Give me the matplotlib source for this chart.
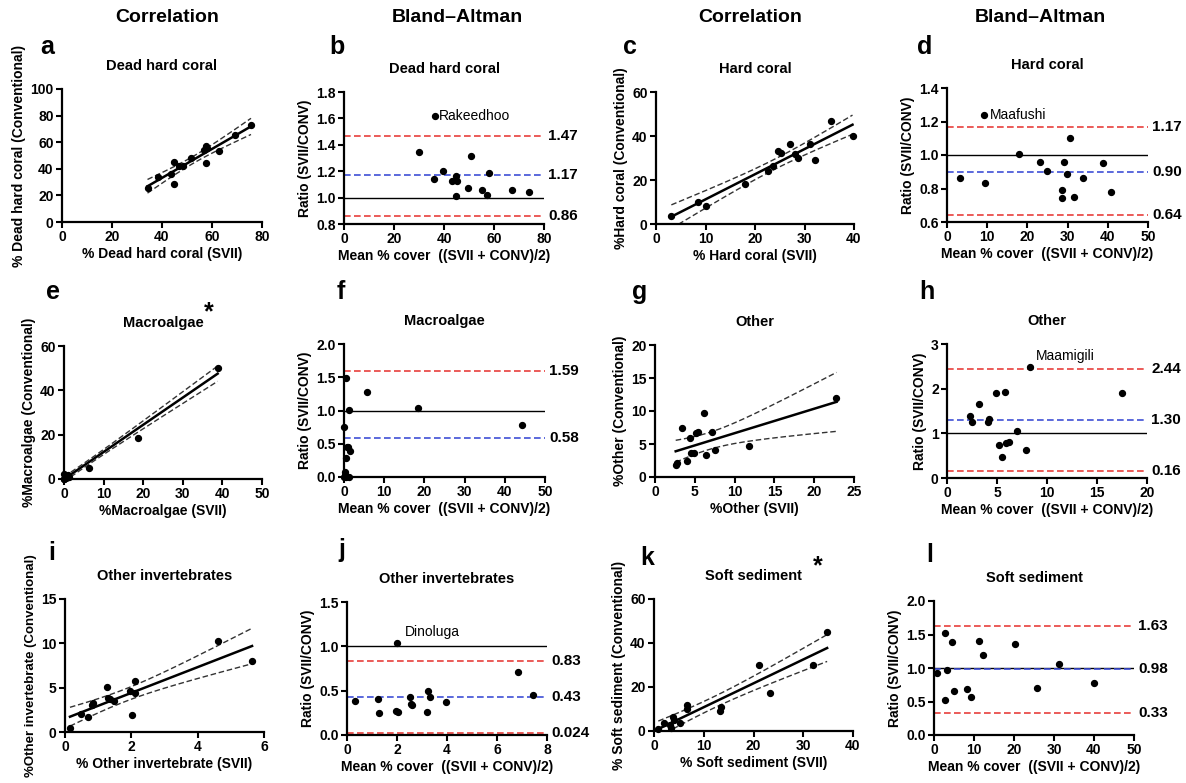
import numpy as np
import matplotlib
matplotlib.use('Agg')
import matplotlib.pyplot as plt

plt.rcParams['font.family'] = ['Liberation Sans', 'DejaVu Sans']
plt.rcParams['font.weight'] = 'bold'
plt.rcParams['axes.labelweight'] = 'bold'
plt.rcParams['axes.titleweight'] = 'bold'

# ---- data (15 sites) ----
# Dead hard coral
dhc_svii = [34.2, 38.4, 43.5, 44.8, 44.8, 46.6, 48.3, 51.6, 56.9, 57.7, 57.9, 57.5, 62.6, 69.2, 75.6]
dhc_conv = [25.8, 34.1, 35.8, 45.1, 28.3, 41.9, 41.9, 48.4, 53.9, 56.9, 56.0, 44.4, 53.1, 65.4, 72.7]
dhc_mean = [36.3, 29.9, 36.0, 39.6, 43.3, 44.9, 45.1, 44.7, 49.7, 50.7, 55.1, 57.3, 57.9, 67.2, 74.0]
dhc_ratio = [1.617, 1.345, 1.139, 1.202, 1.129, 1.167, 1.129, 1.009, 1.074, 1.313, 1.061, 1.016, 1.184, 1.056, 1.041]
dhc_limits = [1.47, 1.17, 0.86]

# Hard coral
hc_svii = [3.1, 8.5, 10.1, 17.9, 22.7, 23.7, 24.6, 25.3, 27.1, 28.1, 28.6, 31.2, 32.1, 35.4, 39.7]
hc_conv = [3.6, 10.2, 8.0, 18.0, 23.9, 26.2, 33.2, 32.3, 36.4, 31.7, 30.0, 36.4, 29.2, 46.7, 40.0]
hc_mean = [9.3, 3.3, 9.4, 17.9, 23.2, 24.8, 29.1, 29.8, 30.5, 28.6, 28.7, 31.6, 33.8, 38.7, 40.8]
hc_ratio = [1.24, 0.86, 0.834, 1.004, 0.956, 0.906, 0.96, 0.886, 1.10, 0.79, 0.744, 0.752, 0.862, 0.952, 0.78]
hc_limits = [1.17, 0.90, 0.64]

# Macroalgae
ma_svii = [38.8, 18.7, 6.2, 0.0, 0.3, 0.5, 0.8, 1.0, 1.3, 0.1, 0.2, 0.6, 0.4, 0.9, 0.0]
ma_conv = [50.1, 18.3, 5.1, 2.2, 0.8, 1.5, 1.2, 1.6, 1.0, 0.2, 0.5, 0.3, 0.9, 0.7, 0.0]
ma_mean = [5.6, 18.5, 44.4, 0.4, 1.2, 0.1, 0.7, 1.4, 0.4, 0.3, 0.4, 1.2, 1.0, 0.25, 0.0]
ma_ratio = [1.283, 1.033, 0.777, 1.484, 1.008, 0.747, 0.456, 0.391, 0.291, 0.075, 0.0, 0.0, 0.446, 0.035, 0.0]
ma_limits = [1.59, 0.58]

# Other
ot_svii = [22.8, 3.4, 6.1, 4.4, 5.2, 5.4, 7.1, 11.8, 2.8, 2.6, 4.0, 4.5, 4.9, 6.4, 7.6]
ot_conv = [11.97, 7.37, 9.75, 5.91, 6.6, 6.77, 6.77, 4.7, 2.12, 1.82, 2.37, 3.59, 3.59, 3.33, 4.04]
ot_mean = [8.3, 2.27, 2.53, 3.17, 4.07, 4.23, 4.93, 5.83, 5.17, 5.47, 5.93, 6.23, 6.97, 7.93, 17.5]
ot_ratio = [2.49, 1.395, 1.25, 1.665, 1.25, 1.33, 1.905, 1.92, 0.735, 0.465, 0.773, 0.795, 1.058, 0.623, 1.913]
ot_limits = [2.44, 1.30, 0.16]

# Other invertebrates
oi_svii = [0.15, 0.49, 0.69, 0.82, 0.83, 1.26, 1.30, 1.35, 1.49, 1.95, 2.01, 2.11, 2.10, 4.62, 5.64]
oi_conv = [0.45, 1.99, 1.73, 3.05, 3.27, 5.08, 3.87, 3.72, 3.50, 4.62, 1.95, 5.71, 4.40, 10.23, 7.97]
oi_mean = [2.0, 0.32, 1.23, 1.27, 1.97, 2.05, 2.51, 2.57, 2.59, 3.21, 3.24, 3.32, 3.95, 6.84, 7.45]
oi_ratio = [1.037, 0.38, 0.402, 0.252, 0.274, 0.259, 0.432, 0.35, 0.335, 0.256, 0.492, 0.425, 0.372, 0.707, 0.455]
oi_limits = [0.83, 0.43, 0.024]

# Soft sediment
ss_svii = [0.87, 1.94, 3.15, 3.35, 3.8, 3.95, 5.2, 6.7, 6.7, 13.2, 13.4, 21.2, 23.3, 32.0, 34.8]
ss_conv = [0.76, 3.8, 2.7, 1.5, 6.2, 5.0, 3.6, 11.7, 10.0, 9.2, 10.8, 30.2, 17.1, 30.2, 45.0]
ss_mean = [0.83, 2.67, 2.75, 3.17, 4.42, 4.92, 8.17, 9.33, 11.3, 12.3, 20.2, 25.75, 31.3, 40.0]
ss_ratio = [0.93, 1.522, 0.522, 0.975, 1.393, 0.657, 0.692, 0.572, 1.398, 1.199, 1.358, 0.706, 1.06, 0.776]
ss_limits = [1.63, 0.98, 0.33]

W, H = 1186, 783
fig = plt.figure(figsize=(W / 100, H / 100), dpi=100)

RED = '#e8403c'
BLUE = '#3e4fd6'
T_CRIT = 2.160  # t(0.975, df=13)


def add_ax(x0, x1, ytop, ybot):
    ax = fig.add_axes([x0 / W, 1 - ybot / H, (x1 - x0) / W, (ybot - ytop) / H])
    for s in ['top', 'right']:
        ax.spines[s].set_visible(False)
    for s in ['left', 'bottom']:
        ax.spines[s].set_linewidth(1.6)
    ax.tick_params(direction='out', length=4, width=1.5, labelsize=10, pad=2)
    return ax


def style(ax, title, xlabel, ylabel, xlim, ylim, xt, yt, yfmt=None, ylab_size=10):
    ax.set_xlim(*xlim)
    ax.set_ylim(*ylim)
    ax.set_xticks(xt)
    ax.set_yticks(yt)
    if yfmt:
        ax.set_yticklabels([yfmt % v for v in yt])
    ax.set_title(title, fontsize=10.5, pad=14)
    ax.set_xlabel(xlabel, fontsize=10, labelpad=2)
    ax.set_ylabel(ylabel, fontsize=ylab_size, labelpad=3)


def corr_panel(ax, x, y):
    x = np.asarray(x)
    y = np.asarray(y)
    n = len(x)
    b, a = np.polyfit(x, y, 1)
    xs = np.linspace(x.min(), x.max(), 200)
    yhat = a + b * xs
    s = np.sqrt(np.sum((y - (a + b * x)) ** 2) / (n - 2))
    se = s * np.sqrt(1 / n + (xs - x.mean()) ** 2 / np.sum((x - x.mean()) ** 2))
    ax.plot(xs, yhat, color='black', lw=1.8)
    ax.plot(xs, yhat + T_CRIT * se, color='#333333', lw=1.0, ls=(0, (4, 2)))
    ax.plot(xs, yhat - T_CRIT * se, color='#333333', lw=1.0, ls=(0, (4, 2)))
    ax.scatter(x, y, s=18, color='black', zorder=3, clip_on=False)


def ba_panel(ax, m, r, limits):
    ax.axhline(1.0, color='black', lw=1.0)
    colors = [RED, BLUE, RED] if len(limits) == 3 else [RED, BLUE]
    for v, c in zip(limits, colors):
        ax.axhline(v, color=c, lw=1.2, ls=(0, (4, 2)))
        ax.text(1.02, v, ('%.3f' % v if v < 0.1 else '%.2f' % v), transform=ax.get_yaxis_transform(),
                ha='left', va='center', fontsize=11)
    ax.scatter(m, r, s=18, color='black', zorder=3, clip_on=False)


ba_x = 'Mean % cover  ((SVII + CONV)/2)'
ba_y = 'Ratio (SVII/CONV)'

# row 1
ax = add_ax(62, 262, 89, 222)
corr_panel(ax, dhc_svii, dhc_conv)
style(ax, 'Dead hard coral', '% Dead hard coral (SVII)', '% Dead hard coral (Conventional)',
      (0, 80), (0, 100), range(0, 81, 20), range(0, 101, 20))

ax = add_ax(344, 544, 92, 224)
ba_panel(ax, dhc_mean, dhc_ratio, dhc_limits)
style(ax, 'Dead hard coral', ba_x, ba_y, (0, 80), (0.8, 1.8), range(0, 81, 20),
      np.arange(0.8, 1.81, 0.2), '%.1f')
ax.annotate('Rakeedhoo', (dhc_mean[0], dhc_ratio[0]), xytext=(3, 0), textcoords='offset points',
            va='center', fontsize=10, fontweight='normal')

ax = add_ax(656, 854, 92, 224)
corr_panel(ax, hc_svii, hc_conv)
style(ax, 'Hard coral', '% Hard coral (SVII)', '%Hard coral (Conventional)',
      (0, 40), (0, 60), range(0, 41, 10), range(0, 61, 20))

ax = add_ax(947, 1148, 88, 222)
ba_panel(ax, hc_mean, hc_ratio, hc_limits)
style(ax, 'Hard coral', ba_x, ba_y, (0, 50), (0.6, 1.4), range(0, 51, 10),
      np.arange(0.6, 1.41, 0.2), '%.1f')
ax.annotate('Maafushi', (hc_mean[0], hc_ratio[0]), xytext=(4, 0), textcoords='offset points',
            va='center', fontsize=10, fontweight='normal')

# row 2
ax = add_ax(64, 262, 346, 479)
corr_panel(ax, ma_svii, ma_conv)
style(ax, 'Macroalgae', '%Macroalgae (SVII)', '%Macroalgae (Conventional)',
      (0, 50), (0, 60), range(0, 51, 10), range(0, 61, 20))

ax = add_ax(344, 545, 344, 477)
ba_panel(ax, ma_mean, ma_ratio, ma_limits)
style(ax, 'Macroalgae', ba_x, ba_y, (0, 50), (0, 2.0), range(0, 51, 10),
      np.arange(0, 2.01, 0.5), '%.1f')

ax = add_ax(655, 854, 345, 477)
corr_panel(ax, ot_svii, ot_conv)
style(ax, 'Other', '%Other (SVII)', '%Other (Conventional)',
      (0, 25), (0, 20), range(0, 26, 5), range(0, 21, 5))

ax = add_ax(947, 1147, 344, 478)
ba_panel(ax, ot_mean, ot_ratio, ot_limits)
style(ax, 'Other', ba_x, ba_y, (0, 20), (0, 3), range(0, 21, 5), range(0, 4))
ax.annotate('Maamigili', (ot_mean[0], ot_ratio[0]), xytext=(4, 3), textcoords='offset points',
            va='bottom', fontsize=10, fontweight='normal')

# row 3
ax = add_ax(65, 264, 599, 732)
corr_panel(ax, oi_svii, oi_conv)
style(ax, 'Other invertebrates', '% Other invertebrate (SVII)', '%Other invertebrate (Conventional)',
      (0, 6), (0, 15), range(0, 7, 2), range(0, 16, 5), ylab_size=9.5)

ax = add_ax(347, 547, 602, 735)
ba_panel(ax, oi_mean, oi_ratio, oi_limits)
style(ax, 'Other invertebrates', ba_x, ba_y, (0, 8), (0, 1.5), range(0, 9, 2),
      np.arange(0, 1.51, 0.5), '%.1f')
ax.annotate('Dinoluga', (oi_mean[0], oi_ratio[0]), xytext=(6, 3), textcoords='offset points',
            va='bottom', fontsize=10, fontweight='normal')

ax = add_ax(654, 853, 599, 731)
corr_panel(ax, ss_svii, ss_conv)
style(ax, 'Soft sediment', '% Soft sediment (SVII)', '% Soft sediment (Conventional)',
      (0, 40), (0, 60), range(0, 41, 10), range(0, 61, 20))

ax = add_ax(934, 1134, 601, 735)
ba_panel(ax, ss_mean, ss_ratio, ss_limits)
style(ax, 'Soft sediment', ba_x, ba_y, (0, 50), (0, 2.0), range(0, 51, 10),
      np.arange(0, 2.01, 0.5), '%.1f')

# column headers, panel letters, asterisks
for x, t in [(167, 'Correlation'), (457, 'Bland\u2013Altman'), (750, 'Correlation'), (1040, 'Bland\u2013Altman')]:
    fig.text(x / W, 1 - 18 / H, t, ha='center', va='center', fontsize=14)

letters = ['a', 'b', 'c', 'd', 'e', 'f', 'g', 'h', 'i', 'j', 'k', 'l']
letter_xy = [(47, 47), (337, 47), (630, 47), (925, 47),
             (53, 292), (341, 292), (640, 292), (927, 292),
             (52, 553), (342, 550), (647, 558), (930, 555)]
for t, (x, y) in zip(letters, letter_xy):
    fig.text(x / W, 1 - y / H, t, ha='center', va='center', fontsize=18)

for x, y in [(209, 312), (818, 566)]:
    fig.text(x / W, 1 - y / H, '*', ha='center', va='center', fontsize=18)

fig.savefig('out.png', dpi=100)
